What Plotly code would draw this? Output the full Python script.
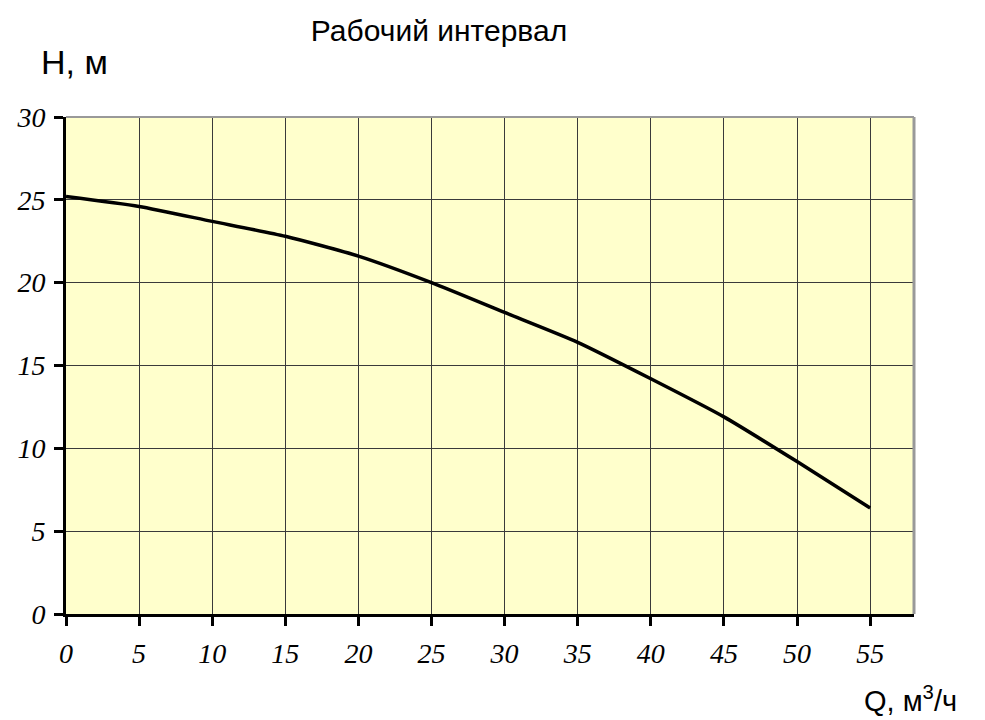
import plotly.graph_objects as go

# Data
q_values = [0, 5, 10, 15, 20, 25, 30, 35, 40, 45, 50, 55]
h_values = [25.2, 24.6, 23.7, 22.8, 21.6, 20.0, 18.2, 16.4, 14.2, 11.9, 9.2, 6.4]
x_ticks = [0, 5, 10, 15, 20, 25, 30, 35, 40, 45, 50, 55]
y_ticks = [0, 5, 10, 15, 20, 25, 30]

title_text = "Рабочий интервал"
y_label = "H, м"
x_label = "Q, м<sup>3</sup>/ч"

W, H = 977, 712          # page has an 8px body margin
L, R, T, B = 58, 71, 109, 106
PW, PH = W - L - R, H - T - B

fig = go.Figure()
fig.add_trace(go.Scatter(
    x=q_values, y=h_values, mode="lines",
    line=dict(color="black", width=3.5, shape="spline", smoothing=0.6),
    showlegend=False, hoverinfo="x+y",
))

tickfont = dict(family="Liberation Serif, DejaVu Serif, serif", size=28, color="black",
                style="italic")

def px_x(page_x):
    return (page_x - 8 - L) / PW

def px_y(page_y):
    return (H - B - (page_y - 8)) / PH

fig.update_layout(
    width=W, height=H,
    margin=dict(l=L, r=R, t=T, b=B, pad=0, autoexpand=False),
    paper_bgcolor="white",
    plot_bgcolor="#FFFFCC",
    title=dict(text=title_text, x=(439 - 8) / W, xanchor="center", y=1 - 22 / H, yanchor="middle",
               font=dict(family="Liberation Sans, Arial, sans-serif", size=30, color="black")),
    xaxis=dict(range=[0, 58], tickvals=x_ticks, ticktext=[str(v) for v in x_ticks],
               automargin=False,
               showgrid=True, gridcolor="#3a3a3a", gridwidth=1, zeroline=False,
               showline=True, linecolor="black", linewidth=3,
               ticks="outside", ticklen=9, tickwidth=3, tickcolor="black",
               tickfont=tickfont, ticklabelstandoff=3),
    yaxis=dict(range=[0, 30], tickvals=y_ticks, ticktext=[str(v) for v in y_ticks],
               automargin=False,
               showgrid=True, gridcolor="#3a3a3a", gridwidth=1, zeroline=False,
               showline=True, linecolor="black", linewidth=3,
               ticks="outside", ticklen=9, tickwidth=3, tickcolor="black",
               tickfont=tickfont, ticklabelstandoff=3),
    shapes=[
        dict(type="line", xref="paper", yref="paper", x0=0, x1=1, y0=1, y1=1,
             line=dict(color="#999999", width=2)),
        dict(type="line", xref="paper", yref="paper", x0=1, x1=1, y0=0, y1=1,
             line=dict(color="#999999", width=3)),
    ],
    annotations=[
        dict(text=y_label, xref="paper", yref="paper", x=px_x(74), y=px_y(62),
             xanchor="center", yanchor="middle", showarrow=False,
             font=dict(family="Liberation Sans, Arial, sans-serif", size=34, color="black")),
        dict(text=x_label, xref="paper", yref="paper", x=px_x(910), y=px_y(699),
             xanchor="center", yanchor="middle", showarrow=False,
             font=dict(family="Liberation Sans, Arial, sans-serif", size=29, color="black")),
    ],
)

fig.write_html("out.html")
